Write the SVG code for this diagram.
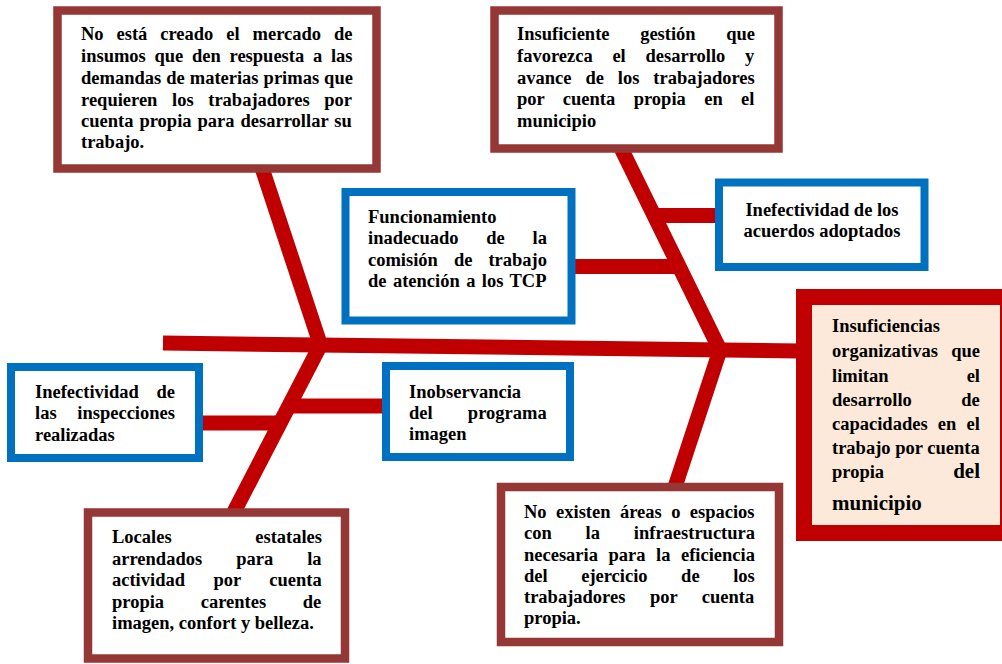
<svg xmlns="http://www.w3.org/2000/svg" width="1002" height="664" viewBox="0 0 1002 664">
<style>
.t{font-family:"Liberation Serif","Times New Roman",serif;font-weight:bold;font-size:18.5px;fill:#000}
.r{text-anchor:end}
.m{text-anchor:middle}
.big{font-size:21px}
.bb{fill:#fff;stroke:#953735;stroke-width:8.5}
.bl{fill:#fff;stroke:#0070C0;stroke-width:8}
.bone{stroke:#C00000;stroke-width:15;fill:none}
</style>
<rect width="1002" height="664" fill="#fff"/>
<g id="connectors">
<line class="bone" x1="163" y1="343" x2="800" y2="351"/>
<line class="bone" x1="262" y1="168" x2="320.5" y2="345"/>
<line class="bone" x1="320.5" y1="345" x2="234" y2="512"/>
<line class="bone" x1="203" y1="423" x2="282" y2="423"/>
<line class="bone" x1="287" y1="406" x2="384" y2="406"/>
<line class="bone" x1="620" y1="146" x2="720" y2="350"/>
<line class="bone" x1="720" y1="350" x2="674" y2="490"/>
<line class="bone" x1="652" y1="215.5" x2="716" y2="215.5"/>
<line class="bone" x1="574" y1="266.5" x2="681" y2="266.5"/>
</g>
<g id="n1">
<rect class="bb" x="57.5" y="10.5" width="319" height="158"/>
<text class="t" x="81" y="40" word-spacing="8.3">No está creado el mercado de</text>
<text class="t" x="81" y="62" word-spacing="4.1">insumos que den respuesta a las</text>
<text class="t" x="81" y="84" word-spacing="0.4">demandas de materias primas que</text>
<text class="t" x="81" y="106" word-spacing="10">requieren los trabajadores por</text>
<text class="t" x="81" y="127" word-spacing="1.4">cuenta propia para desarrollar su</text>
<text class="t" x="81" y="148">trabajo.</text>
</g>
<g id="n2">
<rect class="bb" x="494.5" y="10.5" width="284" height="138"/>
<text class="t" x="517" y="40" word-spacing="26">Insuficiente gestión que</text>
<text class="t" x="517" y="62" word-spacing="15.1">favorezca el desarrollo y</text>
<text class="t" x="517" y="84" word-spacing="9.3">avance de los trabajadores</text>
<text class="t" x="517" y="105" word-spacing="13.8">por cuenta propia en el</text>
<text class="t" x="517" y="127">municipio</text>
</g>
<g id="n3">
<rect x="804" y="297" width="204" height="236" fill="#FDE9D9" stroke="#C00000" stroke-width="16"/>
<text class="t" x="832" y="332">Insuficiencias</text>
<text class="t" x="832" y="357" word-spacing="8.7">organizativas que</text>
<text class="t" x="832" y="382" word-spacing="73.5">limitan el</text>
<text class="t" x="832" y="406" word-spacing="44.7">desarrollo de</text>
<text class="t" x="832" y="430" word-spacing="5.6">capacidades en el</text>
<text class="t" x="832" y="454">trabajo por cuenta</text>
<text class="t" x="832" y="478">propia</text>
<text class="t big r" x="980" y="478">del</text>
<text class="t big" x="832" y="510">municipio</text>
</g>
<g id="n4">
<rect class="bl" x="11" y="367" width="188" height="91"/>
<text class="t" x="35" y="398" word-spacing="13.1">Inefectividad de</text>
<text class="t" x="35" y="419" word-spacing="16.1">las inspecciones</text>
<text class="t" x="35" y="441">realizadas</text>
</g>
<g id="n5">
<rect class="bl" x="386" y="366" width="184" height="91"/>
<text class="t" x="409" y="398">Inobservancia</text>
<text class="t" x="409" y="419" word-spacing="30.6">del programa</text>
<text class="t" x="409" y="440">imagen</text>
</g>
<g id="n6">
<rect class="bl" x="345.5" y="192" width="226" height="128.5"/>
<text class="t" x="368" y="223">Funcionamiento</text>
<text class="t" x="368" y="244" word-spacing="23.2">inadecuado de la</text>
<text class="t" x="368" y="266" word-spacing="11.4">comisión de trabajo</text>
<text class="t" x="368" y="287" word-spacing="1.8">de atención a los TCP</text>
</g>
<g id="n7">
<rect class="bl" x="719" y="182.5" width="205.5" height="84.5"/>
<text class="t m" x="822" y="216">Inefectividad de los</text>
<text class="t m" x="822" y="237">acuerdos adoptados</text>
</g>
<g id="n8">
<rect class="bb" x="88" y="512.5" width="257" height="146"/>
<text class="t" x="112" y="543" word-spacing="79">Locales estatales</text>
<text class="t" x="112" y="565" word-spacing="29.4">arrendados para la</text>
<text class="t" x="112" y="586" word-spacing="23.8">actividad por cuenta</text>
<text class="t" x="112" y="608" word-spacing="32">propia carentes de</text>
<text class="t" x="112" y="629">imagen, confort y belleza.</text>
</g>
<g id="n9">
<rect class="bb" x="501" y="487" width="278" height="155"/>
<text class="t" x="524" y="518" word-spacing="4.8">No existen áreas o espacios</text>
<text class="t" x="524" y="539" word-spacing="29.2">con la infraestructura</text>
<text class="t" x="524" y="561" word-spacing="5.9">necesaria para la eficiencia</text>
<text class="t" x="524" y="582" word-spacing="28.9">del ejercicio de los</text>
<text class="t" x="524" y="603" word-spacing="19.9">trabajadores por cuenta</text>
<text class="t" x="524" y="624">propia.</text>
</g>
</svg>
